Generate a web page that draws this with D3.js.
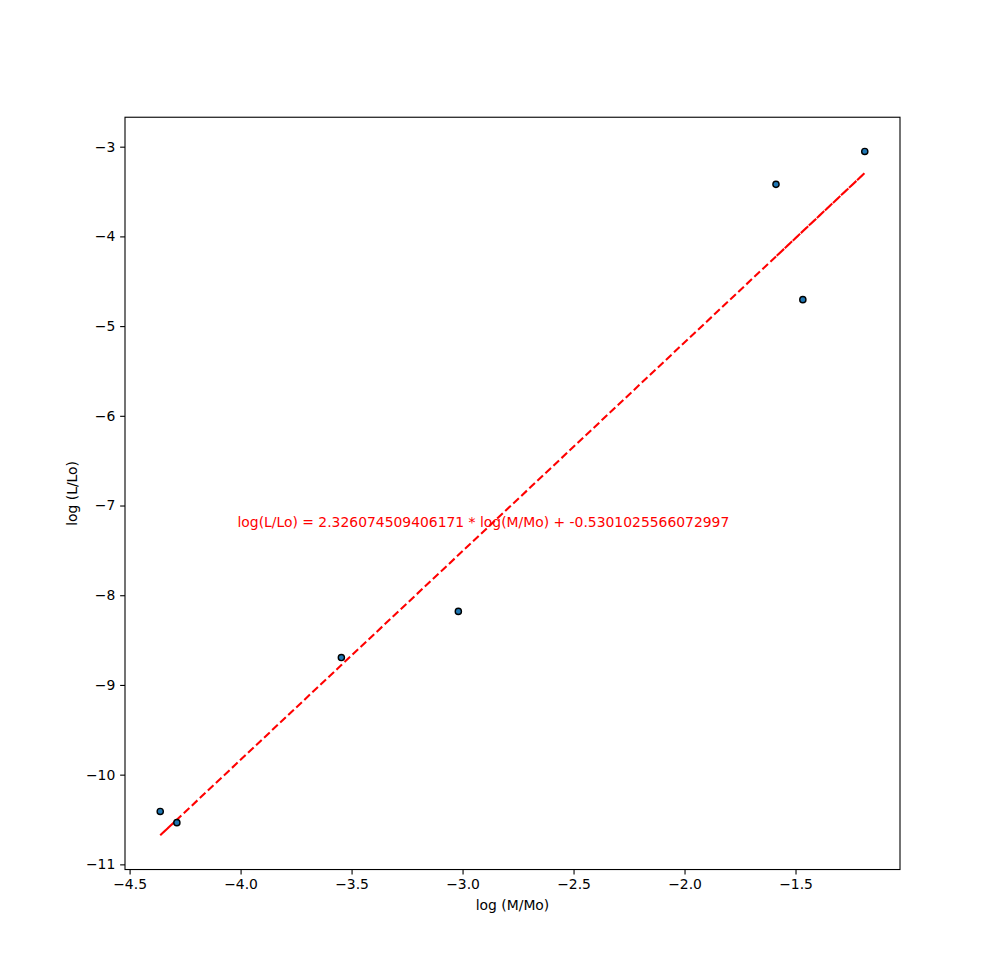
<!DOCTYPE html>
<html>
<head>
<meta charset="utf-8">
<script src="https://cdn.jsdelivr.net/npm/d3@7"></script>
<style>
  body { margin: 0; background: #fff; }
  text { font-family: "DejaVu Sans", sans-serif; }
</style>
</head>
<body>
<script>
// data (order kept as in the fitted path)
var logM = [-4.287, -4.362, -3.546, -3.019, -1.467, -1.188, -1.588];
var logL = [-10.535, -10.41, -8.695, -8.18, -4.705, -3.053, -3.42];
var slope = 2.326074509406171;
var intercept = -0.5301025566072997;
var xTicks = [-4.5, -4.0, -3.5, -3.0, -2.5, -2.0, -1.5];
var yTicks = [-11, -10, -9, -8, -7, -6, -5, -4, -3];
var eqText = "log(L/Lo) = 2.326074509406171 * log(M/Mo) + -0.5301025566072997";

(function() {
var w = 1000, h = 977;
var mLeft = 125, mRight = 900, mTop = 117.24, mBottom = 869.53;

var svg = d3.select("body").append("svg")
  .attr("width", w)
  .attr("height", h);

// matplotlib style 5% margins
var fitY = logM.map(function(d) { return slope * d + intercept; });
var xmin = d3.min(logM), xmax = d3.max(logM);
var ymin = d3.min(logL.concat(fitY)), ymax = d3.max(logL.concat(fitY));
var xs = xmax - xmin, ys = ymax - ymin;

var x = d3.scaleLinear()
  .domain([xmin - 0.05 * xs, xmax + 0.05 * xs])
  .range([mLeft, mRight]);
var y = d3.scaleLinear()
  .domain([ymin - 0.05 * ys, ymax + 0.05 * ys])
  .range([mBottom, mTop]);

// fitted line, drawn through the points in data order
var line = d3.line()
  .x(function(d, i) { return x(logM[i]); })
  .y(function(d) { return y(d); });

svg.append("path")
  .datum(fitY)
  .attr("d", line)
  .attr("fill", "none")
  .attr("stroke", "#ff0000")
  .attr("stroke-width", 2.08)
  .attr("stroke-dasharray", "7.7,3.33");

// points
svg.selectAll("circle")
  .data(logM)
  .enter()
  .append("circle")
  .attr("cx", function(d) { return x(d); })
  .attr("cy", function(d, i) { return y(logL[i]); })
  .attr("r", 3.1)
  .attr("fill", "#1f77b4")
  .attr("stroke", "#000")
  .attr("stroke-width", 1.39);

// equation text
svg.append("text")
  .attr("x", x(-4.014))
  .attr("y", y(-7.24))
  .attr("fill", "#ff0000")
  .style("font-size", "13.9px")
  .text(eqText);

// axes
var xAxis = d3.axisBottom(x).tickValues(xTicks).tickFormat(d3.format(".1f"))
  .tickSizeInner(4.86).tickSizeOuter(0).tickPadding(4.86);
var yAxis = d3.axisLeft(y).tickValues(yTicks).tickFormat(d3.format("d"))
  .tickSizeInner(4.86).tickSizeOuter(0).tickPadding(4.86);

var gx = svg.append("g")
  .attr("transform", "translate(0," + mBottom + ")")
  .call(xAxis);
var gy = svg.append("g")
  .attr("transform", "translate(" + mLeft + ",0)")
  .call(yAxis);

[gx, gy].forEach(function(g) {
  g.select(".domain").remove();
  g.selectAll(".tick line").attr("stroke", "#000").attr("stroke-width", 1.1);
  g.selectAll(".tick text")
    .attr("fill", "#000")
    .style("font-size", "13.9px")
    .style("font-family", "DejaVu Sans");
});

// frame
svg.append("rect")
  .attr("x", mLeft)
  .attr("y", mTop)
  .attr("width", mRight - mLeft)
  .attr("height", mBottom - mTop)
  .attr("fill", "none")
  .attr("stroke", "#000")
  .attr("stroke-width", 1.1);

// labels
svg.append("text")
  .attr("x", (mLeft + mRight) / 2)
  .attr("y", 910)
  .attr("text-anchor", "middle")
  .style("font-size", "13.9px")
  .text("log (M/Mo)");

svg.append("text")
  .attr("transform", "translate(77," + ((mTop + mBottom) / 2) + ") rotate(-90)")
  .attr("text-anchor", "middle")
  .style("font-size", "13.9px")
  .text("log (L/Lo)");
})();
</script>
</body>
</html>
